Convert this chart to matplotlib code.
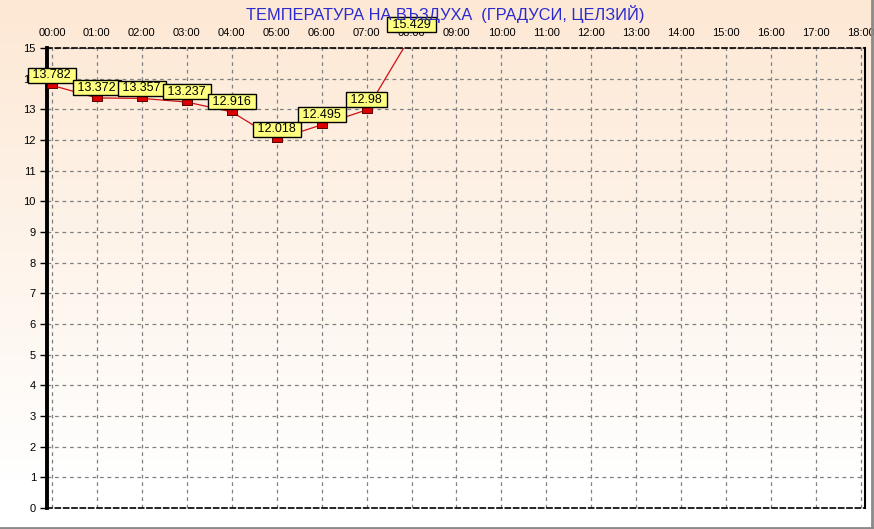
import numpy as np
import matplotlib
matplotlib.use("Agg")
import matplotlib.pyplot as plt
from matplotlib.lines import Line2D

hours = [0, 1, 2, 3, 4, 5, 6, 7, 8]
temps = [13.782, 13.372, 13.357, 13.237, 12.916, 12.018, 12.495, 12.98, 15.429]
tick_hours = list(range(0, 19))
tick_labels = ["%02d:00" % h for h in tick_hours]
title = "ТЕМПЕРАТУРА НА ВЪЗДУХА  (ГРАДУСИ, ЦЕЛЗИЙ)"

plt.rcParams['font.family'] = ['Liberation Sans', 'DejaVu Sans']

fig = plt.figure(figsize=(8.74, 5.29), dpi=100)

# background gradient peach -> white
bg = fig.add_axes([0, 0, 1, 1], zorder=-10)
grad = np.linspace(0, 1, 256)[:, None]
top = np.array([253, 232, 212]) / 255.0
bot = np.array([255, 255, 255]) / 255.0
w = np.clip(grad * 1.1, 0, 1)
img = top[None, None, :] * (1 - w[:, :, None]) + bot[None, None, :] * w[:, :, None]
bg.imshow(img, aspect='auto', extent=[0, 1, 0, 1], origin='upper')
bg.set_xlim(0, 1)
bg.set_ylim(0, 1)
bg.axis('off')
# gray frame at right and bottom
fig.add_artist(Line2D([0, 0.998], [0.002, 0.002], color='#8a8a8a', lw=2, transform=fig.transFigure))
fig.add_artist(Line2D([0.998, 0.998], [0.002, 1], color='#8a8a8a', lw=2, transform=fig.transFigure))

ax = fig.add_axes([47 / 874, 21 / 529, 818 / 874, 460 / 529])
ax.patch.set_alpha(0)
ax.set_xlim(-0.111, 18.09)
ax.set_ylim(0, 15)

ax.set_xticks(tick_hours)
ax.set_xticklabels(tick_labels)
ax.set_yticks(range(0, 16))
ax.xaxis.tick_top()
ax.tick_params(axis='x', length=0, pad=7, labelsize=8)
ax.tick_params(axis='y', length=5, width=1, pad=3, labelsize=8)
ax.grid(True, color='#808080', linestyle=(0, (3, 3)), linewidth=0.9)

for s in ['top', 'bottom']:
    ax.spines[s].set_linestyle((0, (3, 2)))
    ax.spines[s].set_linewidth(1.2)
ax.spines['left'].set_linewidth(2.8)
ax.spines['right'].set_linewidth(1.5)

rect = [(-1.8, -1), (1.8, -1), (1.8, 1), (-1.8, 1), (-1.8, -1)]
ax.plot(hours, temps, color='#d01010', lw=0.9, zorder=3)
ax.plot(hours, temps, linestyle='none', marker=rect, markersize=6.5,
        markerfacecolor='#dd0000', markeredgecolor='#600000', markeredgewidth=0.7,
        zorder=4)

for h, t in zip(hours, temps):
    ax.annotate(" %s " % t, (h, t), xytext=(0, 3.0), textcoords='offset points',
                ha='center', va='bottom', fontsize=9, zorder=6,
                annotation_clip=False,
                bbox=dict(boxstyle='square,pad=0.12', fc='#ffff80', ec='black', lw=1))

fig.text(445 / 874, 1 - 14 / 529, title, ha='center', va='center',
         color='#2a2ad0', fontsize=11.8, zorder=1)

fig.savefig('out.png', dpi=100)
